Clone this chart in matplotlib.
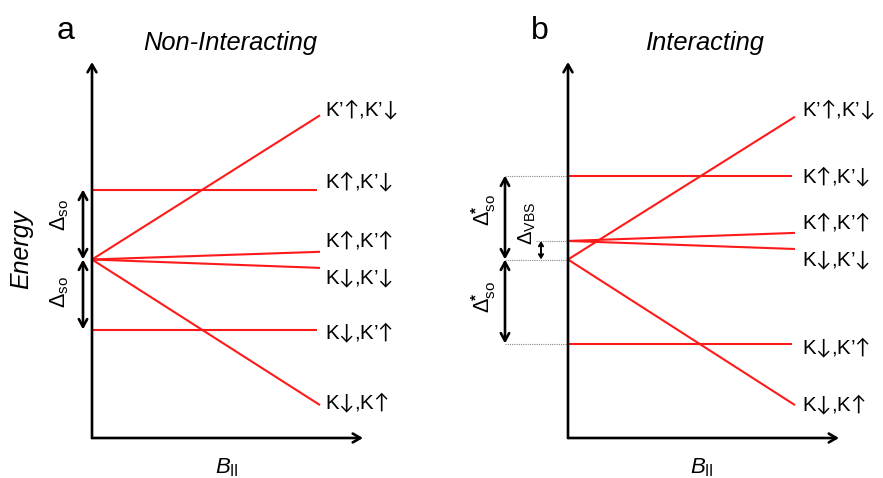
import matplotlib
matplotlib.use("Agg")
import matplotlib.pyplot as plt

plt.rcParams['font.family'] = ['Liberation Sans', 'DejaVu Sans']
plt.rcParams['mathtext.fontset'] = 'custom'
plt.rcParams['mathtext.rm'] = 'Liberation Sans'
plt.rcParams['mathtext.it'] = 'Liberation Sans:italic'
plt.rcParams['mathtext.bf'] = 'Liberation Sans:bold'
plt.rcParams['mathtext.sf'] = 'Lato'

# ---------------- data ----------------
level_labels = ["K’↑,K’↓", "K↑,K’↓", "K↑,K’↑", "K↓,K’↓", "K↓,K’↑", "K↓,K↑"]
B_start = [0.0, 0.0, 0.0, 0.0, 0.0, 0.0]
B_end = [1.0, 0.985, 1.0, 1.0, 0.985, 1.0]

# Non-interacting (energy in units of Δso)
E_start_a = [0.0, 1.0, 0.0, 0.0, -1.0, 0.0]
E_end_a = [2.06, 1.0, 0.11, -0.12, -1.0, -2.08]

# Interacting
E_start_b = [0.0, 1.19, 0.265, 0.265, -1.205, 0.0]
E_end_b = [2.04, 1.19, 0.38, 0.15, -1.205, -2.08]

delta_so = 1.0
delta_so_star = 1.2
delta_vbs = 0.265

# label vertical offsets (layout)
lab_off_a = [0.07, 0.11, 0.17, -0.15, -0.05, 0.03]
lab_off_b = [0.10, -0.01, 0.16, -0.16, -0.06, 0.0]

RED = '#ff1a1a'
fig = plt.figure(figsize=(8.83, 4.78), dpi=100)

PXY = 70.0     # px per energy unit
Y0 = 259.5     # px of zero energy (from top)
H = 478.0
W = 883.0


def arrowify(s):
    return s.replace('↑', r'$\mathsf{↑}$').replace('↓', r'$\mathsf{↓}$')


def make_ax(x0px, pxx):
    ax = fig.add_axes([0, 0, 1, 1])
    ax.set_xlim(-x0px / pxx, (W - x0px) / pxx)
    ax.set_ylim((Y0 - H) / PXY, Y0 / PXY)
    ax.axis('off')
    ax.patch.set_alpha(0)
    return ax


def draw_axes(ax, pxx):
    ybot = (Y0 - 438) / PXY
    ytop = (Y0 - 62) / PXY
    xr = 271 / pxx
    ap = dict(arrowstyle='->,head_length=0.55,head_width=0.32', lw=1.9,
              color='black', shrinkA=0, shrinkB=0)
    ax.annotate('', xy=(0, ytop), xytext=(0, ybot), arrowprops=ap)
    ax.annotate('', xy=(xr, ybot), xytext=(0, ybot), arrowprops=ap)
    return ybot


ax_a = make_ax(92, 228.0)
ax_b = make_ax(568, 227.0)

for ax, Es, Ee, offs, lx in [(ax_a, E_start_a, E_end_a, lab_off_a, 1.022),
                             (ax_b, E_start_b, E_end_b, lab_off_b, 1.031)]:
    for lab, b0, b1, e0, e1, off in zip(level_labels, B_start, B_end, Es, Ee, offs):
        ax.plot([b0, b1], [e0, e1], color=RED, lw=1.5, solid_capstyle='butt', zorder=3)
        ax.text(lx, e1 + off, arrowify(lab), fontsize=14.8, va='center', ha='left')

draw_axes(ax_a, 228.0)
draw_axes(ax_b, 227.0)

# ---------- panel a annotations ----------
dap = dict(arrowstyle='<->,head_length=0.55,head_width=0.3', lw=1.9, color='black',
           shrinkA=0, shrinkB=0)
xa = (83 - 92) / 228.0
ax_a.annotate('', xy=(xa, delta_so), xytext=(xa, 0), arrowprops=dap)
ax_a.annotate('', xy=(xa, -delta_so), xytext=(xa, 0), arrowprops=dap)
ax_a.text(-0.14, 0.64, r'$\Delta_{\rm so}$', rotation=90, fontsize=15.5, ha='center', va='center')
ax_a.text(-0.14, -0.46, r'$\Delta_{\rm so}$', rotation=90, fontsize=15.5, ha='center', va='center')
ax_a.text(-0.118, 3.27, 'a', fontsize=23, ha='center', va='center')
ax_a.text(0.605, 3.09, 'Non-Interacting', fontsize=18.4, style='italic', ha='center', va='center')
ax_a.text(-0.31, 0.14, 'Energy', fontsize=18, style='italic', rotation=90, ha='center', va='center')
ax_a.text(0.59, -2.97, r'$\mathit{B}_{\rm II}$', fontsize=16, ha='center', va='center')

# ---------- panel b annotations ----------
xb = (505 - 568) / 227.0
xv = (541 - 568) / 227.0
for yv, x_from in [(delta_so_star, xb), (0.0, xb), (-delta_so_star, xb), (delta_vbs, xv - 0.02)]:
    ax_b.plot([x_from, 0], [yv, yv], color='#888888', lw=0.8, ls=(0, (1, 1)), zorder=1)
ax_b.annotate('', xy=(xb, delta_so_star), xytext=(xb, 0), arrowprops=dap)
ax_b.annotate('', xy=(xb, -delta_so_star), xytext=(xb, 0), arrowprops=dap)
sap = dict(arrowstyle='<->,head_length=0.25,head_width=0.15', lw=1.4, color='black',
           shrinkA=0, shrinkB=0)
ax_b.annotate('', xy=(xv, delta_vbs), xytext=(xv, 0), arrowprops=sap)
for yc in (0.70, -0.53):
    ax_b.text(-0.37, yc, r'$\Delta^{\!\mathbf{*}}_{\rm so}$', rotation=90, fontsize=15.5,
              ha='center', va='center')
ax_b.text(-0.18, 0.51, r'$\Delta_{\rm VBS}$', rotation=90, fontsize=14.5, ha='center', va='center')
ax_b.text(-0.123, 3.27, 'b', fontsize=23, ha='center', va='center')
ax_b.text(0.604, 3.09, 'Interacting', fontsize=18.4, style='italic', ha='center', va='center')
ax_b.text(0.59, -2.97, r'$\mathit{B}_{\rm II}$', fontsize=16, ha='center', va='center')

fig.savefig('out.png', dpi=100)
